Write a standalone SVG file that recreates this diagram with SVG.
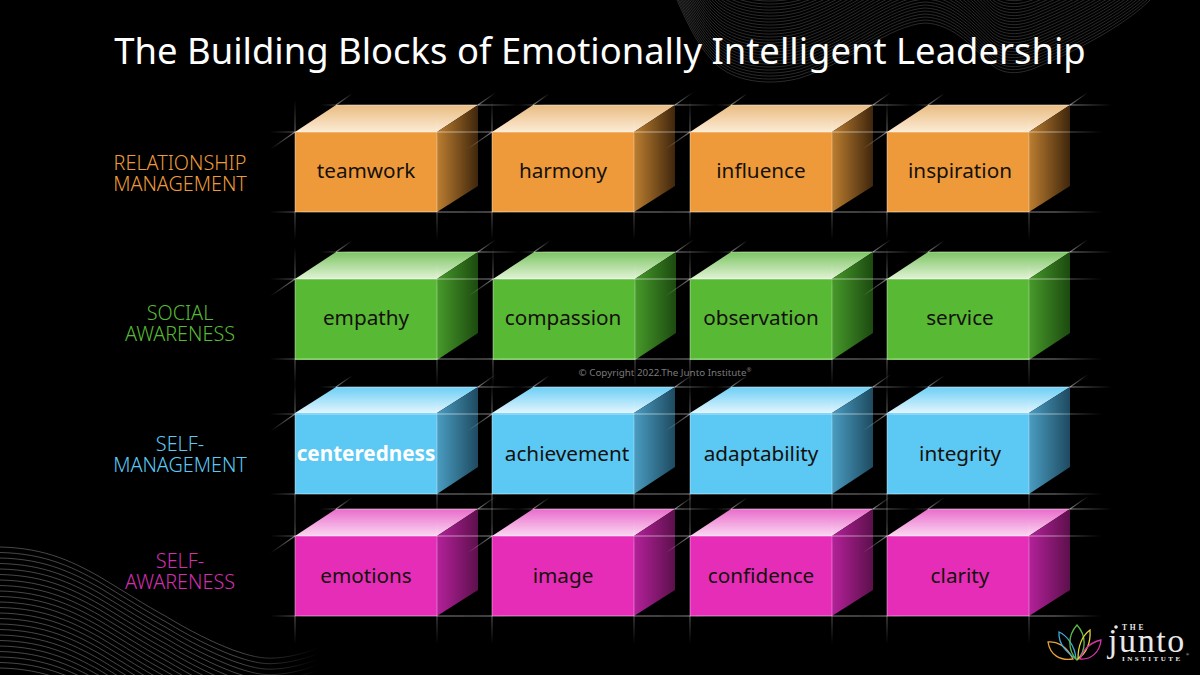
<svg xmlns="http://www.w3.org/2000/svg" width="1200" height="675" viewBox="0 0 1200 675">
<style>
text{font-family:"Noto Sans","Open Sans","DejaVu Sans",sans-serif}
.t{font-size:36.4px;fill:#fff;text-anchor:middle}
.w{font-size:20.7px;fill:#14100c;text-anchor:middle}
.l{font-size:19.8px;font-weight:300;text-anchor:middle}
.wv{fill:none;stroke:#fff;stroke-width:.7}
.serif{font-family:"Liberation Serif",serif;fill:#e8e8e8}
.lotus{fill:none;stroke-width:1.3}
</style>
<defs>
<linearGradient id="fh"><stop offset="0" stop-color="#fff" stop-opacity="0"/><stop offset=".14" stop-color="#fff" stop-opacity=".42"/><stop offset=".8" stop-color="#fff" stop-opacity=".42"/><stop offset="1" stop-color="#fff" stop-opacity="0"/></linearGradient>
<linearGradient id="fv" x1="0" y1="0" x2="0" y2="1"><stop offset="0" stop-color="#fff" stop-opacity="0"/><stop offset=".2" stop-color="#fff" stop-opacity=".4"/><stop offset=".8" stop-color="#fff" stop-opacity=".4"/><stop offset="1" stop-color="#fff" stop-opacity="0"/></linearGradient>
<linearGradient id="fd"><stop offset="0" stop-color="#fff" stop-opacity=".5"/><stop offset="1" stop-color="#fff" stop-opacity="0"/></linearGradient>
<linearGradient id="to" x1="0" y1="0" x2="0" y2="1"><stop offset="0" stop-color="#E9BC82"/><stop offset="1" stop-color="#FCEBD4"/></linearGradient>
<linearGradient id="tg" x1="0" y1="0" x2="0" y2="1"><stop offset="0" stop-color="#7CC463"/><stop offset="1" stop-color="#E2F3D6"/></linearGradient>
<linearGradient id="tb" x1="0" y1="0" x2="0" y2="1"><stop offset="0" stop-color="#6CCFF6"/><stop offset="1" stop-color="#E2F5FD"/></linearGradient>
<linearGradient id="tm" x1="0" y1="0" x2="0" y2="1"><stop offset="0" stop-color="#E96CCB"/><stop offset="1" stop-color="#FBD6F1"/></linearGradient>
<linearGradient id="so"><stop offset="0" stop-color="#BC7E30"/><stop offset="1" stop-color="#3F260C"/></linearGradient>
<linearGradient id="sg"><stop offset="0" stop-color="#479A2A"/><stop offset="1" stop-color="#1C4A10"/></linearGradient>
<linearGradient id="sb"><stop offset="0" stop-color="#4A9DC2"/><stop offset="1" stop-color="#1E4A60"/></linearGradient>
<linearGradient id="sm"><stop offset="0" stop-color="#B4219A"/><stop offset="1" stop-color="#5C104C"/></linearGradient>
<linearGradient id="fadeL" gradientUnits="userSpaceOnUse" x1="0" y1="0" x2="320" y2="0"><stop offset="0" stop-color="#fff"/><stop offset=".75" stop-color="#fff"/><stop offset="1" stop-color="#000"/></linearGradient>
<mask id="mL" maskUnits="userSpaceOnUse" x="0" y="500" width="345" height="175"><rect x="0" y="500" width="345" height="175" fill="url(#fadeL)"/></mask>
<g id="sparks">
<rect x="25" y="-.6" width="200" height="1.2" fill="url(#fh)"/>
<rect x="-25" y="26.4" width="240" height="1.2" fill="url(#fh)"/>
<rect x="-25" y="106.4" width="240" height="1.2" fill="url(#fh)"/>
<rect x="-.5" y="-5" width="1" height="140" fill="url(#fv)"/>
<rect x="141.6" y="10" width=".8" height="125" fill="url(#fv)"/>
<rect x="0" y="-.5" width="22" height="1" fill="url(#fd)" transform="translate(183 0) rotate(-35)"/>
<rect x="0" y="-.5" width="30" height="1" fill="url(#fd)" transform="translate(0 27) rotate(145)"/>
<rect x="0" y="-.5" width="20" height="1" fill="url(#fd)" transform="translate(41 0) rotate(-35)"/>
</g>
<g id="bo"><path d="M0 27H142V107H0Z" fill="#EE9A3A"/><path d="M0 27L41 0H183L142 27Z" fill="url(#to)"/><path d="M142 27L183 0V81L142 107Z" fill="url(#so)"/><use href="#sparks"/></g>
<g id="bg"><path d="M0 27H142V108H0Z" fill="#58B935"/><path d="M0 27L41 0H183L142 27Z" fill="url(#tg)"/><path d="M142 27L183 0V81L142 108Z" fill="url(#sg)"/><use href="#sparks"/></g>
<g id="bb"><path d="M0 26H142V107H0Z" fill="#5CC8F4"/><path d="M0 26L41 0H183L142 26Z" fill="url(#tb)"/><path d="M142 26L183 0V80L142 107Z" fill="url(#sb)"/><use href="#sparks"/></g>
<g id="bm"><path d="M0 27H142V107H0Z" fill="#E62DB8"/><path d="M0 27L41 0H183L142 27Z" fill="url(#tm)"/><path d="M142 27L183 0V81L142 107Z" fill="url(#sm)"/><use href="#sparks"/></g>
<path id="w1" class="wv" d="M-10 547C40 546 70 560 100 577C125 592 145 605 167 617C190 631 212 642 233 650C250 656 262 659 275 658C295 657 315 650 340 640"/>
<path id="w2" class="wv" d="M677 0C688 25 700 50 718 66C740 84 775 85 800 78C850 62 890 25 925 23C955 24 975 50 993 66C1005 75 1020 74 1035 68C1090 45 1130 20 1150 0"/>
</defs>
<rect id="bg-rect" width="1200" height="675" fill="#000"/>
<g id="waves-left" opacity=".4" mask="url(#mL)">
<use href="#w1"/><use href="#w1" y="5.5"/><use href="#w1" y="11"/><use href="#w1" y="16.5"/><use href="#w1" y="22"/><use href="#w1" y="27.5"/><use href="#w1" y="33"/><use href="#w1" y="38.5"/><use href="#w1" y="44"/><use href="#w1" y="49.5"/><use href="#w1" y="55"/><use href="#w1" y="60.5"/><use href="#w1" y="66"/><use href="#w1" y="71.5"/><use href="#w1" y="77"/><use href="#w1" y="82.5"/><use href="#w1" y="88"/><use href="#w1" y="93.5"/><use href="#w1" y="99"/><use href="#w1" y="104.5"/><use href="#w1" y="110"/><use href="#w1" y="115.5"/><use href="#w1" y="121"/>
</g>
<g id="waves-top" opacity=".24">
<use href="#w2"/><use href="#w2" y="-3"/><use href="#w2" y="-6"/><use href="#w2" y="-9"/><use href="#w2" y="-12"/><use href="#w2" y="-15"/><use href="#w2" y="-18"/><use href="#w2" y="-21"/><use href="#w2" y="-24"/><use href="#w2" y="-27"/><use href="#w2" y="-30"/><use href="#w2" y="-33"/><use href="#w2" y="-36"/><use href="#w2" y="-39"/><use href="#w2" y="-42"/><use href="#w2" y="-45"/><use href="#w2" y="-48"/><use href="#w2" y="-51"/><use href="#w2" y="-54"/><use href="#w2" y="-57"/><use href="#w2" y="-60"/><use href="#w2" y="-63"/><use href="#w2" y="-66"/><use href="#w2" y="-69"/><use href="#w2" y="-72"/><use href="#w2" y="-75"/><use href="#w2" y="-78"/><use href="#w2" y="-81"/>
</g>
<text id="title" class="t" x="600" y="64">The Building Blocks of Emotionally Intelligent Leadership</text>
<g id="label-relationship"><text class="l" fill="#EE9A3A" x="180" y="170">RELATIONSHIP</text><text class="l" fill="#EE9A3A" x="180" y="191">MANAGEMENT</text></g>
<g id="label-social"><text class="l" fill="#58B935" x="180" y="320">SOCIAL</text><text class="l" fill="#58B935" x="180" y="341">AWARENESS</text></g>
<g id="label-selfmgmt"><text class="l" fill="#5CC8F4" x="180" y="451">SELF-</text><text class="l" fill="#5CC8F4" x="180" y="472">MANAGEMENT</text></g>
<g id="label-selfaware"><text class="l" fill="#D02FAE" x="180" y="568">SELF-</text><text class="l" fill="#D02FAE" x="180" y="589">AWARENESS</text></g>
<g id="teamwork" transform="translate(295 105)"><use href="#bo"/><text class="w" x="71" y="73">teamwork</text></g>
<g id="harmony" transform="translate(492 105)"><use href="#bo"/><text class="w" x="71" y="73">harmony</text></g>
<g id="influence" transform="translate(690 105)"><use href="#bo"/><text class="w" x="71" y="73">influence</text></g>
<g id="inspiration" transform="translate(887 105)"><use href="#bo"/><text class="w" x="73" y="73">inspiration</text></g>
<g id="empathy" transform="translate(295 252)"><use href="#bg"/><text class="w" x="71" y="73">empathy</text></g>
<g id="compassion" transform="translate(493 252)"><use href="#bg"/><text class="w" x="70" y="73">compassion</text></g>
<g id="observation" transform="translate(690 252)"><use href="#bg"/><text class="w" x="71" y="73">observation</text></g>
<g id="service" transform="translate(887 252)"><use href="#bg"/><text class="w" x="73" y="73">service</text></g>
<g id="centeredness" transform="translate(295 387)"><use href="#bb"/><text class="w" x="71" y="74" style="fill:#fff;font-weight:700">centeredness</text></g>
<g id="achievement" transform="translate(492 387)"><use href="#bb"/><text class="w" x="75" y="74">achievement</text></g>
<g id="adaptability" transform="translate(690 387)"><use href="#bb"/><text class="w" x="71" y="74">adaptability</text></g>
<g id="integrity" transform="translate(887 387)"><use href="#bb"/><text class="w" x="73" y="74">integrity</text></g>
<g id="emotions" transform="translate(295 509)"><use href="#bm"/><text class="w" x="71" y="74">emotions</text></g>
<g id="image" transform="translate(492 509)"><use href="#bm"/><text class="w" x="71" y="74">image</text></g>
<g id="confidence" transform="translate(690 509)"><use href="#bm"/><text class="w" x="71" y="74">confidence</text></g>
<g id="clarity" transform="translate(887 509)"><use href="#bm"/><text class="w" x="73" y="74">clarity</text></g>
<text id="copyright" x="665" y="376" font-size="9.8" fill="#7a7a7a" text-anchor="middle">© Copyright 2022.The Junto Institute<tspan font-size="6" dy="-4">®</tspan></text>
<g id="logo">
<path class="lotus" stroke="#E8A33A" d="M1048 642C1056 641 1066 645 1073 659C1060 661 1050 655 1048 642Z"/>
<path class="lotus" stroke="#3FA9D8" d="M1059 632C1066 635 1075 645 1076 659C1068 653 1058 645 1059 632Z"/>
<path class="lotus" stroke="#5CB848" d="M1077 625C1086 635 1087 650 1077 660C1067 650 1068 635 1077 625Z"/>
<path class="lotus" stroke="#E6D23A" d="M1090 630C1091 645 1086 653 1078 659C1078 647 1082 636 1090 630Z"/>
<path class="lotus" stroke="#D533A8" d="M1101 640C1100 652 1091 660 1080 659C1084 648 1092 642 1101 640Z"/>
<circle cx="1116" cy="627" r="1.8" fill="#e8e8e8"/>
<text class="serif" x="1122" y="630" font-size="7.5" font-weight="700" letter-spacing="2.8">THE</text>
<text class="serif" x="1108" y="652" font-size="34" letter-spacing="1.6">junto</text>
<text class="serif" x="1122" y="660.5" font-size="7" font-weight="700" letter-spacing="2.5">INSTITUTE</text>
<text class="serif" x="1186" y="656" font-size="4">®</text>
</g>
</svg>
